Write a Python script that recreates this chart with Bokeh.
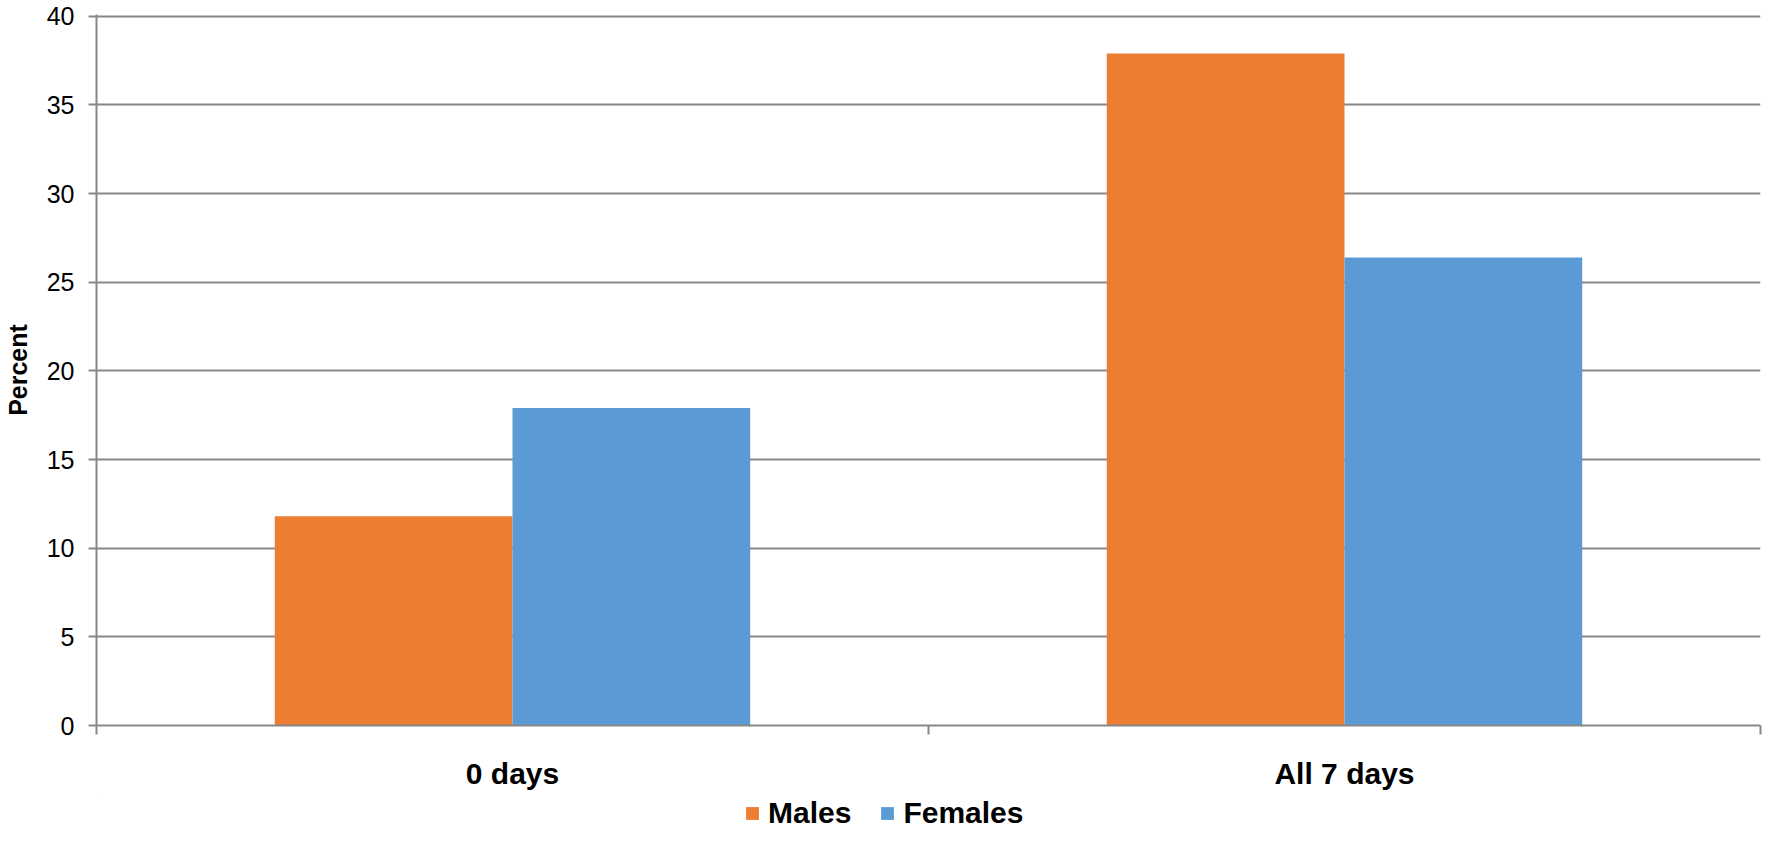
import numpy as np
from bokeh.plotting import figure
from bokeh.layouts import column
from bokeh.models import (Range1d, FixedTicker, Legend, LegendItem, ColumnDataSource)
from bokeh.transform import dodge
from bokeh.embed import file_html
from bokeh.resources import INLINE

categories = ["0 days", "All 7 days"]
series_names = ["Males", "Females"]
males = [11.8, 37.9]
females = [17.9, 26.4]
y_ticks = [0, 5, 10, 15, 20, 25, 30, 35, 40]

GREY = "#878787"
ORANGE = "#ED7D31"
BLUE = "#5B9BD5"
FONT = "Liberation Sans"

n = len(categories)
centers = (np.arange(n) + 0.5).tolist()
edges = np.arange(n + 1).tolist()
src = ColumnDataSource(dict(pos=centers, cat=categories, males=males, females=females))

W = 1762
p = figure(x_range=Range1d(0, n), y_range=Range1d(0, 40.1),
           width=W, height=796, output_backend="svg", toolbar_location=None,
           min_border_left=90, min_border_right=2,
           min_border_top=14, min_border_bottom=71, outline_line_color=None)

gap = 1.5  # gap width relative to bar width
bw = 1.0 / (2 + gap)
r_m = p.vbar(x=dodge("pos", -bw / 2), top="males", width=bw,
             source=src, fill_color=ORANGE, line_color=None)
r_f = p.vbar(x=dodge("pos", bw / 2), top="females", width=bw,
             source=src, fill_color=BLUE, line_color=None)

# y axis
ya = p.yaxis[0]
ya.ticker = FixedTicker(ticks=y_ticks)
ya.axis_line_color = GREY
ya.axis_line_width = 2
ya.major_tick_line_color = GREY
ya.major_tick_line_width = 2
ya.major_tick_in = 0
ya.major_tick_out = 8
ya.minor_tick_line_color = None
ya.major_label_text_font = FONT
ya.major_label_text_font_size = "25px"
ya.major_label_text_color = "#000000"
ya.major_label_standoff = 14
ya.axis_label = "Percent"
ya.axis_label_text_font = FONT
ya.axis_label_text_font_size = "25px"
ya.axis_label_text_font_style = "bold"
ya.axis_label_text_color = "#000000"
ya.axis_label_standoff = 12

p.ygrid.ticker = FixedTicker(ticks=y_ticks)
p.ygrid.grid_line_color = GREY
p.ygrid.grid_line_width = 2
p.xgrid.grid_line_color = None

# x axis: labels at category centres, tick marks at category boundaries
xa = p.xaxis[0]
xa.ticker = FixedTicker(ticks=centers, minor_ticks=edges)
xa.major_label_overrides = {c: lab for c, lab in zip(centers, categories)}
xa.major_tick_line_color = None
xa.major_tick_in = 0
xa.major_tick_out = 9
xa.minor_tick_line_color = GREY
xa.minor_tick_line_width = 2
xa.minor_tick_in = 0
xa.minor_tick_out = 9
xa.axis_line_color = GREY
xa.axis_line_width = 2
xa.major_label_text_font = FONT
xa.major_label_text_font_size = "30px"
xa.major_label_text_font_style = "bold"
xa.major_label_text_color = "#000000"
xa.major_label_standoff = 22

# legend strip below the chart (same bars, drawn far outside its visible ranges)
lg = figure(x_range=Range1d(n + 100, n + 101), y_range=Range1d(-200, -199),
            width=W, height=34,
            output_backend="svg", toolbar_location=None,
            x_axis_location=None, y_axis_location=None,
            min_border_left=0, min_border_right=0, min_border_top=0, min_border_bottom=0,
            outline_line_color=None)
lg.xgrid.grid_line_color = None
lg.ygrid.grid_line_color = None
lm = lg.vbar(x=dodge("pos", -bw / 2), top="males", width=bw, source=src,
             fill_color=ORANGE, line_color=None)
lf = lg.vbar(x=dodge("pos", bw / 2), top="females", width=bw, source=src,
             fill_color=BLUE, line_color=None)
legend = Legend(items=[LegendItem(label=series_names[0], renderers=[lm]),
                       LegendItem(label=series_names[1], renderers=[lf])],
                orientation="horizontal", location=(648, 0),
                label_text_font=FONT, label_text_font_size="30px",
                label_text_font_style="bold", label_text_color="#000000",
                glyph_width=16, glyph_height=16, label_standoff=8, spacing=28,
                padding=0, margin=0, border_line_color=None,
                background_fill_alpha=0)
lg.add_layout(legend, "center")

layout = column(p, lg, spacing=0)
open("out.html", "w").write(file_html(layout, INLINE))
